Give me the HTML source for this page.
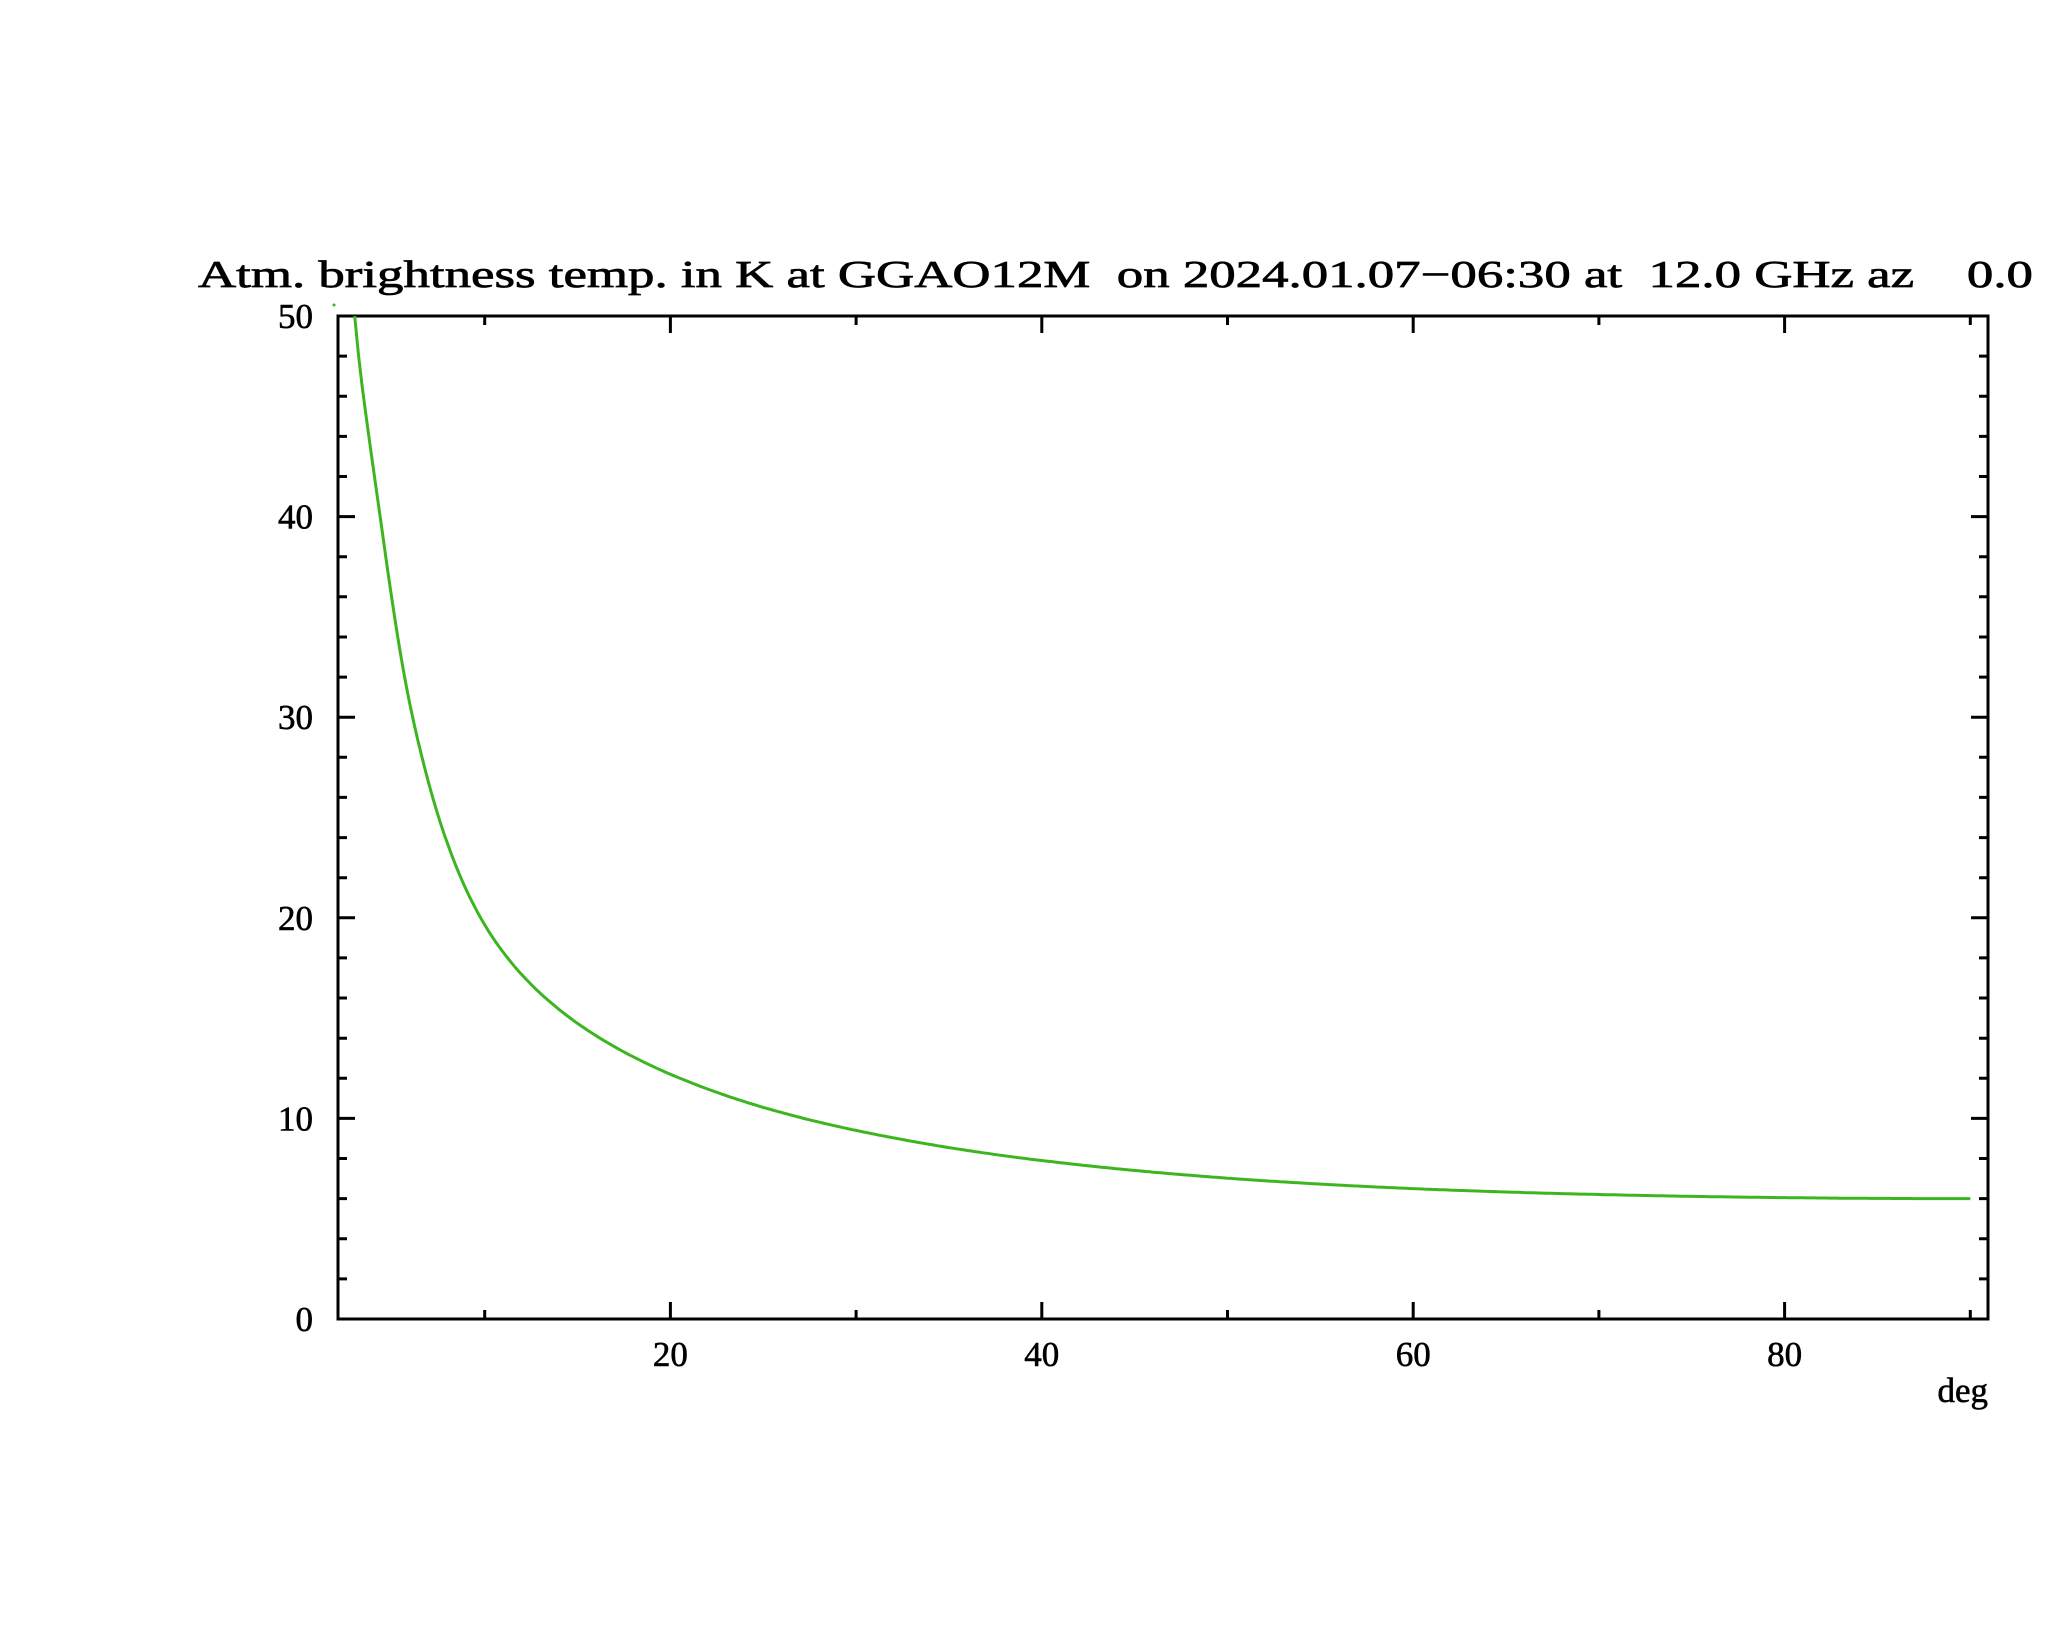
<!DOCTYPE html>
<html><head><meta charset="utf-8"><style>html,body{margin:0;padding:0;background:#fff}text{white-space:pre}</style></head>
<body>
<svg id="s" width="2048" height="1635" xmlns="http://www.w3.org/2000/svg" font-family="'Liberation Serif', serif" fill="#000" xml:space="preserve">
<rect width="2048" height="1635" fill="#fff"/>
<text x="198" y="287" font-size="38" stroke="#000" stroke-width="0.7" textLength="1835" lengthAdjust="spacingAndGlyphs">Atm. brightness temp. in K at GGAO12M  on 2024.01.07−06:30 at  12.0 GHz az    0.0</text>
<g id="ax" stroke="#000" stroke-width="3" fill="none"></g>
<g id="lab" font-size="35" stroke="#000" stroke-width="0.6"></g>
<text x="1988" y="1402" font-size="35" stroke="#000" stroke-width="0.6" text-anchor="end">deg</text>
<path id="c" fill="none" stroke="#3cb521" stroke-width="3"/>
<circle cx="334" cy="305" r="1.5" fill="#3cb521"/>
</svg>
<script>
const L=338,R=1988,T=316,B=1319;
const X=d=>299+d*18.57, Y=v=>B-v*(B-T)/50;
let ax='M'+L+' '+T+'H'+R+'V'+B+'H'+L+'Z';
for(let v=0;v<=50;v+=2){const y=Y(v).toFixed(1);const len=(v%10==0)?17:9;ax+=`M${L} ${y}h${len}M${R} ${y}h${-len}`;}
for(let d=10;d<=90;d+=10){const x=X(d).toFixed(1);const len=(d%20==0)?17:9;ax+=`M${x} ${B}v${-len}M${x} ${T}v${len}`;}
const g=document.getElementById('ax');const p=document.createElementNS('http://www.w3.org/2000/svg','path');p.setAttribute('d',ax);g.appendChild(p);
let lab='';
for(let v=0;v<=50;v+=10)lab+=`<text x="313" y="${Y(v)+12}" text-anchor="end">${v}</text>`;
for(let d=20;d<=80;d+=20)lab+=`<text x="${X(d)}" y="1366" text-anchor="middle">${d}</text>`;
document.getElementById('lab').innerHTML=lab;
const deg=[90,80,60,40,30,20,9.78,6.12,4.37,3],tv=[6.0,6.05,6.5,7.9,9.4,12.2,20,30,40,50];
const u=d=>1/Math.sin(d*Math.PI/180);
const xs=deg.map(u),n=xs.length;
// monotone cubic (Fritsch-Carlson)
const dl=[],m=[];
for(let i=0;i<n-1;i++)dl.push((tv[i+1]-tv[i])/(xs[i+1]-xs[i]));
m[0]=dl[0];m[n-1]=dl[n-2];
for(let i=1;i<n-1;i++){m[i]=dl[i-1]*dl[i]<=0?0:(dl[i-1]+dl[i])/2;}
for(let i=0;i<n-1;i++){const a=m[i]/dl[i],b=m[i+1]/dl[i],h=a*a+b*b;if(h>9){const t=3/Math.sqrt(h);m[i]=t*a*dl[i];m[i+1]=t*b*dl[i];}}
function f(d){const x=u(d);for(let i=0;i<n-1;i++){if(x>=xs[i]&&x<=xs[i+1]){const h=xs[i+1]-xs[i],t=(x-xs[i])/h,t2=t*t,t3=t2*t;return (2*t3-3*t2+1)*tv[i]+(t3-2*t2+t)*h*m[i]+(-2*t3+3*t2)*tv[i+1]+(t3-t2)*h*m[i+1];}}return 6;}
let s='';for(let d=3;d<=90.001;d+=0.2){s+=(s?'L':'M')+X(d).toFixed(1)+' '+Y(f(d)).toFixed(1);}
document.getElementById('c').setAttribute('d',s);
</script>
</body></html>
